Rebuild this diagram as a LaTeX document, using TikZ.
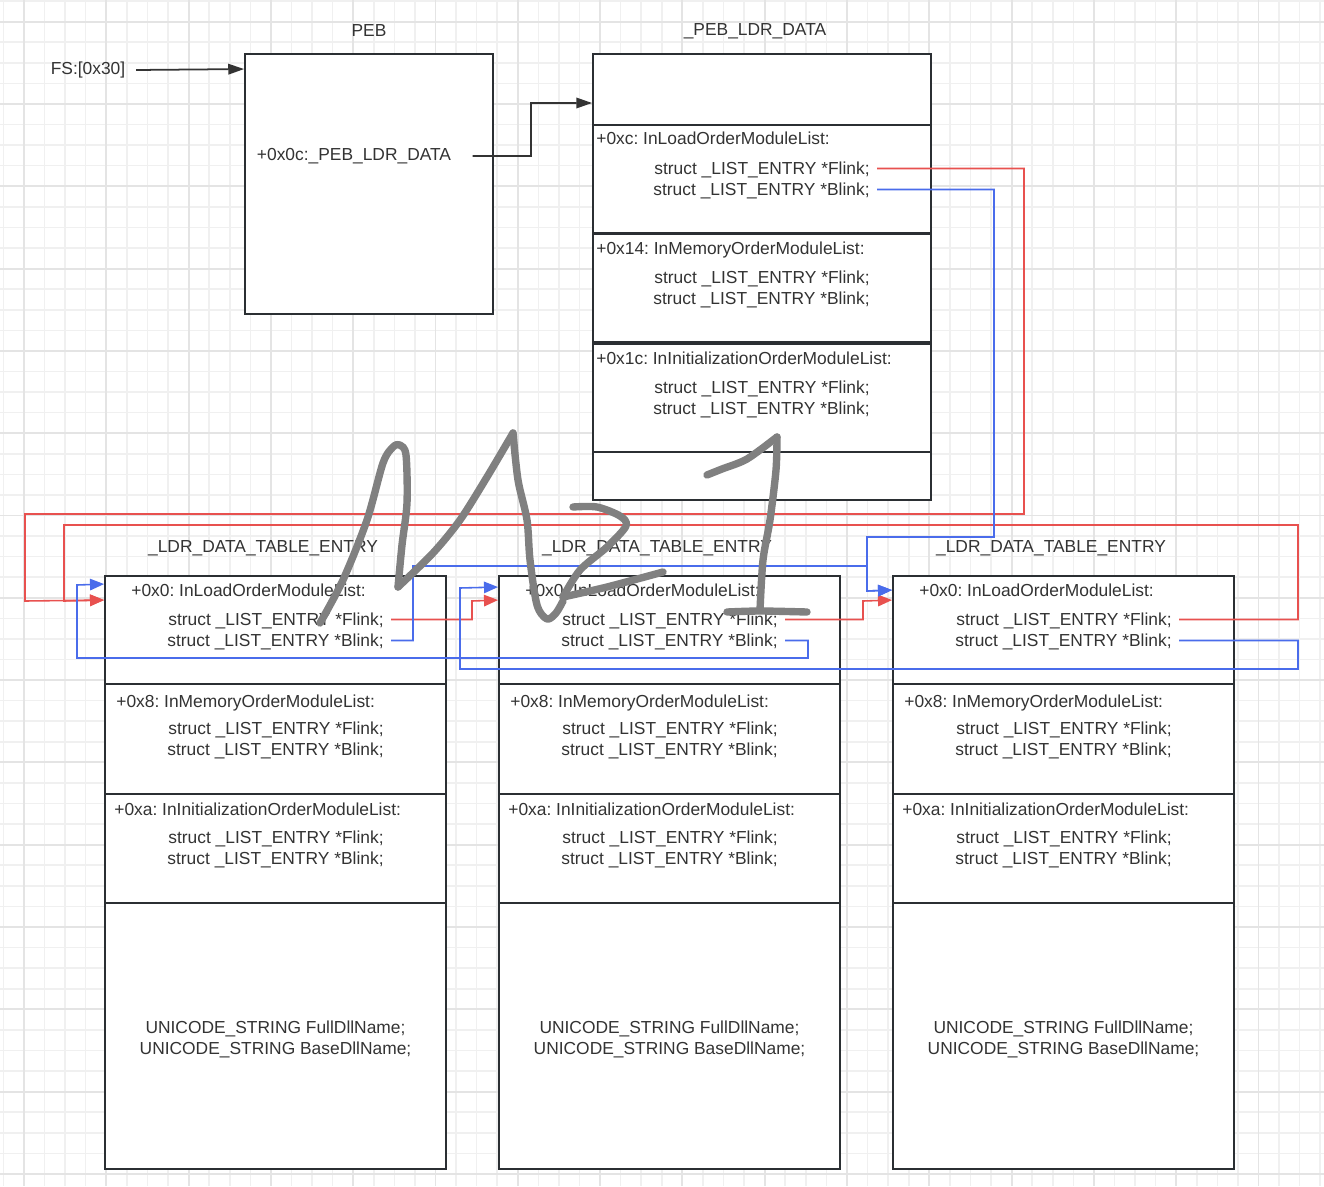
\documentclass[tikz,border=0pt]{standalone}
\usepackage{fontspec}
\setmainfont{Liberation Sans}
\frenchspacing
\usetikzlibrary{arrows.meta,calc}
\definecolor{boxline}{HTML}{2B2F33}
\definecolor{txt}{HTML}{333333}
\definecolor{linkred}{HTML}{E8514F}
\definecolor{linkblue}{HTML}{4A6CEB}
\definecolor{inkgray}{HTML}{808080}
\definecolor{gridmin}{HTML}{F0F0F0}
\definecolor{gridmaj}{HTML}{E4E4E4}
\tikzset{
  sec/.style={draw=boxline, line width=1.1pt, fill=white, minimum width=6.82cm, inner sep=0pt},
  ttl/.style={font=\fontsize{9.9}{11.9}\selectfont, text=txt, inner sep=0pt},
  hdr/.style={ttl, anchor=west, text height=1.5ex, text depth=.3ex},
  fld/.style={ttl, anchor=east, inner xsep=4pt, text height=1.5ex, text depth=.3ex},
  lnk/.style={-{Triangle[length=9pt,width=6pt]}, line width=1pt, draw=txt},
  redln/.style={-{Triangle[length=8pt,width=6.5pt]}, line width=.9pt, draw=linkred},
  blueln/.style={-{Triangle[length=8pt,width=6.5pt]}, line width=.9pt, draw=linkblue},
  ink/.style={draw=inkgray, line width=4.2pt, line cap=round, line join=round},
}

\begin{document}
\begin{tikzpicture}[x=0.02cm, y=-0.02cm]
  \useasboundingbox (0,0) rectangle (1324,1186);
  \fill[white] (0,0) rectangle (1324,1186);
  % background grid
  \foreach \k in {0,...,64} \draw[gridmin, line width=.9pt] ({3.4+\k*20.575},0) -- ++(0,1186);
  \foreach \k in {0,...,57} \draw[gridmin, line width=.9pt] (0,{1.1+\k*20.575}) -- ++(1324,0);
  \foreach \k in {0,...,15} \draw[gridmaj, line width=1.1pt] ({24+\k*82.3},0) -- ++(0,1186);
  \foreach \k in {0,...,14} \draw[gridmaj, line width=1.1pt] (0,{21.7+\k*82.3}) -- ++(1324,0);

  % PEB
  \node[ttl] (fs) at (88,70) {FS:[0x30]};
  \node[ttl] (pebt) at (369,31) {PEB};
  \node[sec, minimum width=4.96cm, minimum height=5.2cm] (peb) at (369,184) {};
  \node[ttl] (pebtxt) at (354,156) {+0x0c:\_PEB\_LDR\_DATA};

  % _PEB_LDR_DATA
  \node[ttl] (ldt) at (755,31) {\_PEB\_LDR\_DATA};
  \node[sec, minimum width=6.76cm, minimum height=1.42cm] (ld-a) at (762,89.5) {};
  \node[sec, minimum width=6.76cm, minimum height=2.16cm] (ld-b) at (762,179) {};
  \node[sec, minimum width=6.76cm, minimum height=2.16cm] (ld-c) at (762,288) {};
  \node[sec, minimum width=6.76cm, minimum height=2.16cm] (ld-d) at (762,398) {};
  \node[sec, minimum width=6.76cm, minimum height=0.96cm] (ld-e) at (762,476) {};
  \node[hdr] (ld-hb) at (596,139) {+0xc: InLoadOrderModuleList:};
  \node[hdr] (ld-hc) at (596,249) {+0x14: InMemoryOrderModuleList:};
  \node[hdr] (ld-hd) at (596,359) {+0x1c: InInitializationOrderModuleList:};
  \foreach \s/\cy in {b/179, c/288, d/398}{
    \node[fld] (ld-\s fl) at (877,{\cy-10.5}) {struct \_LIST\_ENTRY *Flink;};
    \node[fld] (ld-\s bl) at (877,{\cy+10.5}) {struct \_LIST\_ENTRY *Blink;};
  }

  % _LDR_DATA_TABLE_ENTRY x3
  \foreach \i/\cx in {1/275.5, 2/669.5, 3/1063.5}{
    \node[ttl] (ent\i-t) at ({\cx-12.5},548) {\_LDR\_DATA\_TABLE\_ENTRY};
    \node[sec, minimum height=2.16cm] (ent\i-a) at (\cx,630) {};
    \node[sec, minimum height=2.2cm] (ent\i-b) at (\cx,739) {};
    \node[sec, minimum height=2.18cm] (ent\i-c) at (\cx,848.5) {};
    \node[sec, minimum height=5.32cm] (ent\i-d) at (\cx,1036) {};
    \node[hdr] (ent\i-ha) at ({\cx-144.5},591) {+0x0: InLoadOrderModuleList:};
    \node[hdr] (ent\i-hb) at ({\cx-159.5},702) {+0x8: InMemoryOrderModuleList:};
    \node[hdr] (ent\i-hc) at ({\cx-161.5},810) {+0xa: InInitializationOrderModuleList:};
    \node[fld] (ent\i-fl) at ({\cx+115.5},619.5) {struct \_LIST\_ENTRY *Flink;};
    \node[fld] (ent\i-bl) at ({\cx+115.5},640.5) {struct \_LIST\_ENTRY *Blink;};
    \node[fld] (ent\i-bfl) at ({\cx+115.5},728.5) {struct \_LIST\_ENTRY *Flink;};
    \node[fld] (ent\i-bbl) at ({\cx+115.5},749.5) {struct \_LIST\_ENTRY *Blink;};
    \node[fld] (ent\i-cfl) at ({\cx+115.5},837.5) {struct \_LIST\_ENTRY *Flink;};
    \node[fld] (ent\i-cbl) at ({\cx+115.5},858.5) {struct \_LIST\_ENTRY *Blink;};
    \node[ttl, align=center] (ent\i-nm) at (\cx,1039) {UNICODE\_STRING FullDllName;\\UNICODE\_STRING BaseDllName;};
  }

  % black links
  \draw[lnk] ([xshift=6pt]fs.east) -- ($(peb.north west)+(0,16)$);
  \draw[lnk] ([xshift=12pt]pebtxt.east) -| (531,103) -- ($(ld-a.west)+(0,13.5)$);

  % Flink chain
  \draw[redln] (ld-bfl.east) -| (1024,514) -| (25,601) -- ($(ent1-a.north west)+(0,25)$);
  \draw[redln] (ent3-fl.east) -| (1298,525) -| (64,601) -- ($(ent1-a.north west)+(0,25)$);
  \draw[redln] (ent1-fl.east) -| (472,601) -- ($(ent2-a.north west)+(0,25)$);
  \draw[redln] (ent2-fl.east) -| (863,601) -- ($(ent3-a.north west)+(0,25)$);

  % Blink chain
  \draw[blueln] (ld-bbl.east) -| (994,537) -| (867,591) -- ($(ent3-a.north west)+(0,15)$);
  \draw[blueln] (ent1-bl.east) -| (413,566) -| (867,591) -- ($(ent3-a.north west)+(0,15)$);
  \draw[blueln] (ent2-bl.east) -| (808,658) -| (77,585) -- ($(ent1-a.north west)+(0,9)$);
  \draw[blueln] (ent3-bl.east) -| (1298,669) -| (460,588) -- ($(ent2-a.north west)+(0,12)$);

  % hand-written marks
  \draw[ink] plot[smooth, tension=.5] coordinates {(320,623) (343,580) (367,520) (383,463) (393,447) (400,445) (406,455) (407,503) (402,545) (398,587)};
  \draw[ink] plot[smooth, tension=.5] coordinates {(398,587) (433,553) (460,520) (487,477) (513,433)};
  \draw[ink] plot[smooth, tension=.5] coordinates {(513,433) (518,480) (527,520) (530,560) (537,605) (547,619) (556,613) (563,601)};
  \draw[ink] plot[smooth, tension=.5] coordinates {(573,507) (597,507) (620,516) (626,526) (607,547) (580,570) (563,597)};
  \draw[ink] plot[smooth, tension=.5] coordinates {(563,597) (607,587) (663,572)};
  \draw[ink] plot[smooth, tension=.5] coordinates {(707,475) (722,469) (747,459) (777,437)};
  \draw[ink] plot[smooth, tension=.5] coordinates {(777,437) (776,470) (770,520) (763,560) (760,610)};
  \draw[ink] plot[smooth, tension=.5] coordinates {(727,612) (760,611) (807,612)};
\end{tikzpicture}
\end{document}
